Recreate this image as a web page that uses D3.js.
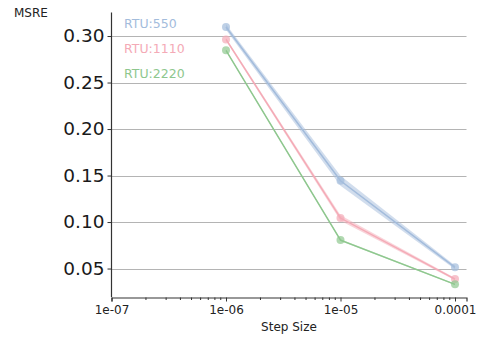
<!DOCTYPE html>
<html>
<head>
<meta charset="utf-8">
<script src="https://cdn.jsdelivr.net/npm/d3@7"></script>
<style>
  body { margin: 0; background: #fff; }
  text { font-family: "DejaVu Sans", Verdana, sans-serif; }
</style>
</head>
<body>
<script>
// data
const stepSizes = [1e-6, 1e-5, 1e-4];
const seriesNames = ['RTU:550', 'RTU:1110', 'RTU:2220'];
const seriesColors = ['#a3bcdc', '#f4aab6', '#8ec78e'];
const msre550 = [0.3097, 0.1444, 0.0513];
const msre1110 = [0.2964, 0.1043, 0.0387];
const msre2220 = [0.2846, 0.0806, 0.0330];
const spread550 = [0.003, 0.0055, 0.002];
const spread1110 = [0.0015, 0.003, 0.0012];
const spread2220 = [0.0006, 0.001, 0.0006];
const yTicks = [0.05, 0.10, 0.15, 0.20, 0.25, 0.30];
const xTicks = [1e-7, 1e-6, 1e-5, 1e-4];
const xTickLabels = ['1e-07', '1e-06', '1e-05', '0.0001'];

const width = 487, height = 339;
const svg = d3.select('body').append('svg')
  .attr('width', width)
  .attr('height', height);

const x = d3.scaleLog()
  .domain([1e-7, 1.26e-4])
  .range([111.5, 466.5]);

const y = d3.scaleLinear()
  .domain([0.0194, 0.3253])
  .range([297, 12.5]);

// grid lines
svg.append('g')
  .selectAll('line')
  .data(yTicks)
  .join('line')
  .attr('x1', x.range()[0])
  .attr('x2', x.range()[1])
  .attr('y1', d => Math.round(y(d)) + 0.5)
  .attr('y2', d => Math.round(y(d)) + 0.5)
  .attr('stroke', '#b4b4b4')
  .attr('stroke-width', 1.2);

const series = [
  { name: seriesNames[0], color: seriesColors[0], values: msre550, spread: spread550 },
  { name: seriesNames[1], color: seriesColors[1], values: msre1110, spread: spread1110 },
  { name: seriesNames[2], color: seriesColors[2], values: msre2220, spread: spread2220 },
];

const band = d3.area()
  .x((d, i) => x(stepSizes[i]))
  .y0(d => y(d[0] - d[1]))
  .y1(d => y(d[0] + d[1]));

const line = d3.line()
  .x((d, i) => x(stepSizes[i]))
  .y(d => y(d));

series.forEach(s => {
  const g = svg.append('g');
  g.append('path')
    .datum(s.values.map((v, i) => [v, s.spread[i]]))
    .attr('fill', s.color)
    .attr('opacity', 0.5)
    .attr('d', band);
  g.append('path')
    .datum(s.values)
    .attr('fill', 'none')
    .attr('stroke', s.color)
    .attr('stroke-width', 1.5)
    .attr('d', line);
  g.selectAll('circle')
    .data(s.values)
    .join('circle')
    .attr('cx', (d, i) => x(stepSizes[i]))
    .attr('cy', d => y(d))
    .attr('r', 4)
    .attr('fill', s.color)
    .attr('opacity', 0.7);
});

// x axis
const xAxis = d3.axisBottom(x)
  .tickValues(xTicks)
  .tickFormat((d, i) => xTickLabels[i])
  .tickSize(4)
  .tickPadding(4);

const gx = svg.append('g')
  .attr('transform', 'translate(0,297.5)')
  .call(xAxis);
gx.select('.domain').attr('stroke', '#333').attr('stroke-width', 1.2);
gx.selectAll('.tick line').attr('stroke', '#333');
gx.selectAll('.tick text')
  .attr('font-size', 12)
  .attr('fill', '#222')
  .attr('font-family', '"DejaVu Sans", sans-serif');

// minor log ticks
const minor = x.ticks().filter(t => !xTicks.some(m => Math.abs(m - t) / m < 1e-6));
svg.append('g')
  .selectAll('line')
  .data(minor)
  .join('line')
  .attr('x1', d => x(d))
  .attr('x2', d => x(d))
  .attr('y1', 297.5)
  .attr('y2', 300)
  .attr('stroke', '#333');

// y axis
const yAxis = d3.axisLeft(y)
  .tickValues(yTicks)
  .tickFormat(d3.format('.2f'))
  .tickSize(4)
  .tickPadding(3);

const gy = svg.append('g')
  .attr('transform', 'translate(111.5,0)')
  .call(yAxis);
gy.select('.domain').attr('stroke', '#333').attr('stroke-width', 1.2)
  .attr('d', `M0,${y.range()[1]}V${y.range()[0]}`);
gy.selectAll('.tick line').attr('stroke', '#333');
gy.selectAll('.tick text')
  .attr('font-size', 18.5)
  .attr('fill', '#1a1a1a')
  .attr('font-family', '"DejaVu Sans", sans-serif');

// axis titles
svg.append('text')
  .attr('x', 14)
  .attr('y', 17)
  .attr('font-size', 12)
  .attr('fill', '#222')
  .text('MSRE');

svg.append('text')
  .attr('x', (x.range()[0] + x.range()[1]) / 2)
  .attr('y', 331)
  .attr('text-anchor', 'middle')
  .attr('font-size', 12)
  .attr('fill', '#222')
  .text('Step Size');

// legend
svg.append('g')
  .selectAll('text')
  .data(series)
  .join('text')
  .attr('x', 124)
  .attr('y', (d, i) => 28 + i * 25)
  .attr('font-size', 12.5)
  .attr('fill', d => d.color)
  .text(d => d.name);
</script>
</body>
</html>
